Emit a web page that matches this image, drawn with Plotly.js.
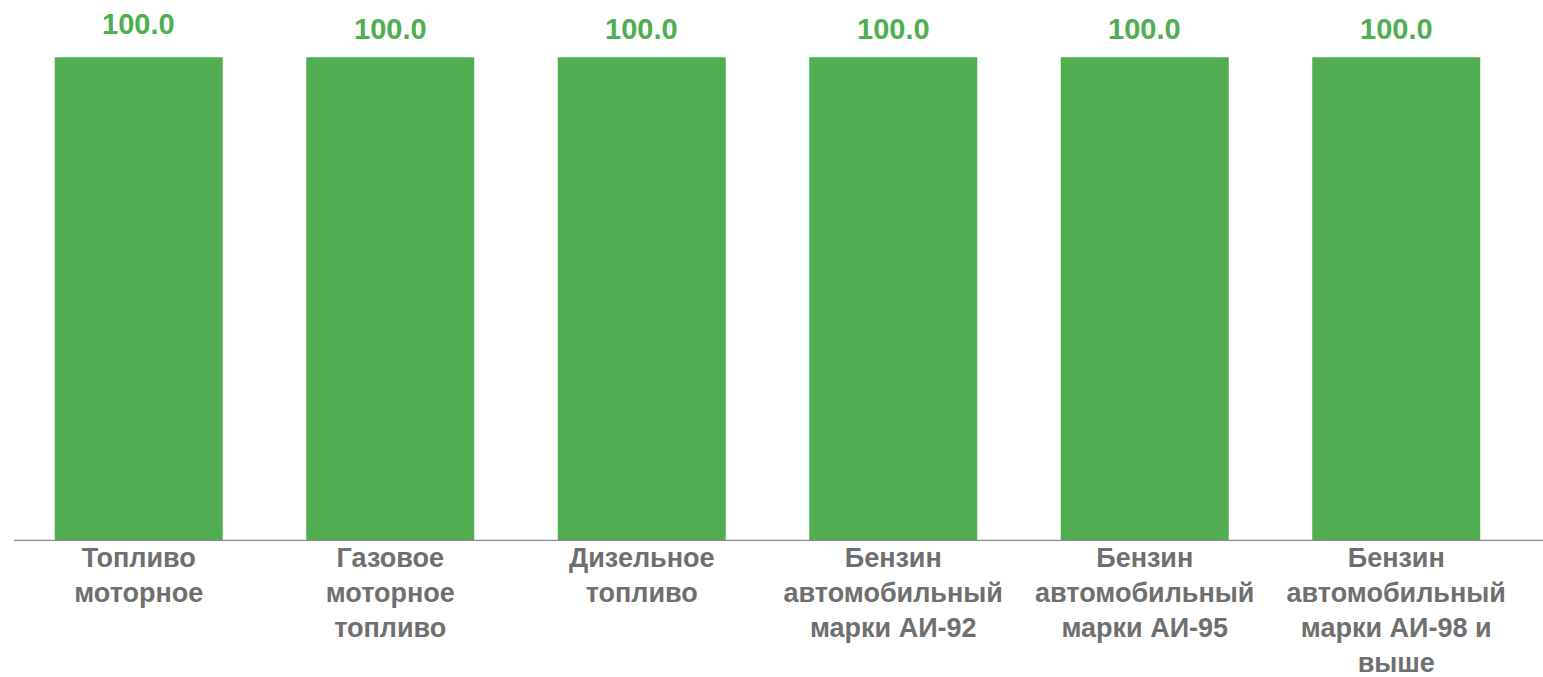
<!DOCTYPE html>
<html>
<head>
<meta charset="utf-8">
<script src="https://cdn.plot.ly/plotly-3.0.1.min.js"></script>
<style>html,body{margin:0;padding:0;background:#fff;}#chart{width:1543px;height:677px;}</style>
</head>
<body>
<div id="chart"></div>
<script>
var categories = [
  "Топливо<br>моторное",
  "Газовое<br>моторное<br>топливо",
  "Дизельное<br>топливо",
  "Бензин<br>автомобильный<br>марки АИ-92",
  "Бензин<br>автомобильный<br>марки АИ-95",
  "Бензин<br>автомобильный<br>марки АИ-98 и<br>выше"
];
var values = [100.0, 100.0, 100.0, 100.0, 100.0, 100.0];

var green = "#50AE50";
var labelShift = [33, 28, 28, 28, 28, 28];

var annotations = values.map(function (v, i) {
  return {
    x: categories[i], y: v, xref: "x", yref: "y",
    text: v.toFixed(1), showarrow: false,
    yanchor: "middle", yshift: labelShift[i],
    font: {family: "Liberation Sans, Arial, sans-serif", size: 29, color: "#4FAE4F", weight: "bold"}
  };
});

var trace = {
  type: "bar", x: categories, y: values,
  marker: {color: green},
  hoverinfo: "skip"
};

var layout = {
  width: 1543, height: 677,
  margin: {l: 13, r: 21, t: 9, b: 136},
  paper_bgcolor: "#ffffff", plot_bgcolor: "#ffffff",
  bargap: 0.332,
  showlegend: false,
  font: {family: "Liberation Sans, Arial, sans-serif"},
  xaxis: {
    type: "category", showline: false, showgrid: false, zeroline: false,
    ticks: "", ticklen: 0, ticklabelstandoff: -2,
    tickfont: {family: "Liberation Sans, Arial, sans-serif", size: 27, color: "#6F6F6F", weight: "bold"}
  },
  yaxis: {range: [0, 110], visible: false, showgrid: false, zeroline: false},
  shapes: [{
    type: "line", xref: "paper", yref: "y",
    x0: (14 - 13) / 1509, x1: (1543 - 13) / 1509, y0: 0, y1: 0,
    line: {color: "#898989", width: 2.5}
  }],
  annotations: annotations
};

Plotly.newPlot("chart", [trace], layout, {displayModeBar: false, staticPlot: true});
</script>
</body>
</html>
